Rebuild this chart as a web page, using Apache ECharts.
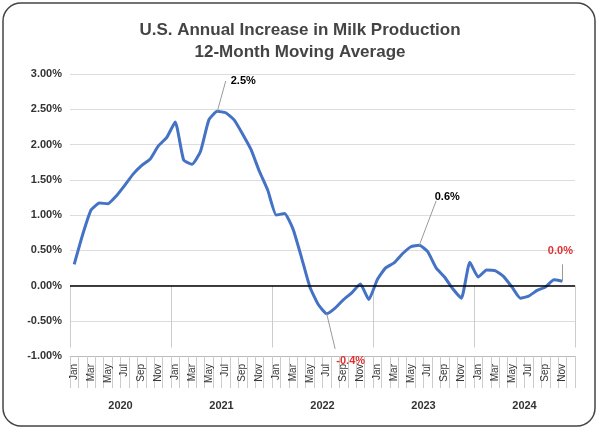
<!DOCTYPE html>
<html><head><meta charset="utf-8">
<script src="https://cdn.jsdelivr.net/npm/echarts@6/dist/echarts.min.js"></script>
<style>html,body{margin:0;padding:0;background:#fff}#c{width:600px;height:431px}</style>
</head><body><div id="c"></div>
<script>
const years = ['2020','2021','2022','2023','2024'];
const months = ['Jan','Feb','Mar','Apr','May','Jun','Jul','Aug','Sep','Oct','Nov','Dec'];
const values = [
 0.30,0.72,1.07,1.17,1.16,1.27,1.42,1.58,1.70,1.79,1.98,2.10,
 2.32,1.78,1.72,1.90,2.35,2.47,2.45,2.35,2.15,1.93,1.62,1.35,
 1.00,1.02,0.80,0.40,-0.02,-0.27,-0.40,-0.32,-0.20,-0.10,0.02,-0.20,
 0.08,0.25,0.32,0.45,0.55,0.57,0.48,0.25,0.12,-0.05,-0.18,0.33,
 0.12,0.22,0.21,0.13,-0.02,-0.18,-0.15,-0.07,-0.02,0.08,0.06,null
];
const notes = [
 {idx:17, text:'2.5%', color:'#000', end:[18.3,2.9], off:[26,-30]},
 {idx:30, text:'-0.4%', color:'#e03030', end:[30.5,-0.9], off:[24,47]},
 {idx:41, text:'0.6%', color:'#000', end:[42.5,1.2], off:[28,-48]},
 {idx:58, text:'0.0%', color:'#e03030', end:[58,0.3], off:[-2,-30]}
];
const cats = [];
years.forEach(y=>months.forEach(m=>cats.push(m)));
const chart = echarts.init(document.getElementById('c'));
chart.setOption({
  animation:false,
  graphic:[{type:'rect',shape:{x:3,y:3,width:592,height:423,r:18},style:{fill:'none',stroke:'#444',lineWidth:1.5}}],
  title:{text:'U.S. Annual Increase in Milk Production\n12-Month Moving Average',left:'center',top:14,
    textStyle:{fontFamily:'Liberation Sans',fontSize:17,fontWeight:'bold',color:'#444',lineHeight:22}},
  grid:{left:70,right:25,top:74,bottom:75},
  xAxis:[{type:'category',data:cats,boundaryGap:true,
    axisLine:{onZero:false,lineStyle:{color:'#bbb'}},
    axisTick:{show:true,interval:0,length:32,lineStyle:{color:'#ccc'}},
    axisLabel:{interval:1,rotate:90,fontSize:10,color:'#333',fontFamily:'Liberation Sans'}},
   {type:'category',data:years,position:'bottom',offset:0,boundaryGap:true,
    axisLine:{show:false},
    axisTick:{show:true,interval:0,length:62,lineStyle:{color:'#ccc'}},
    axisLabel:{fontSize:11,fontWeight:'bold',color:'#333',margin:44,fontFamily:'Liberation Sans'}}],
  yAxis:{type:'value',min:-1,max:3,interval:0.5,
    axisLabel:{formatter:v=>v.toFixed(2)+'%',fontSize:11,fontWeight:'bold',color:'#333',fontFamily:'Liberation Sans'},
    splitLine:{lineStyle:{color:'#ddd'}},axisLine:{show:false},axisTick:{show:false}},
  series:[{type:'line',data:values,smooth:0.15,symbol:'none',
    lineStyle:{color:'#4472c4',width:3},
    markLine:{symbol:'none',silent:true,label:{show:false},
      data:[[{yAxis:0,x:70,lineStyle:{color:'#000',width:1.5,type:'solid'}},{yAxis:0,x:575}]]
        .concat(notes.map(n=>[{coord:[n.idx,values[n.idx]],lineStyle:{color:'#999',width:1,type:'solid'}},{coord:n.end}]))},
    markPoint:{symbol:'circle',symbolSize:0,
      data:notes.map(n=>({coord:[n.idx,values[n.idx]],
        label:{show:true,formatter:n.text,color:n.color,fontWeight:'bold',fontSize:11,fontFamily:'Liberation Sans',offset:n.off}}))}
  }]
});
</script></body></html>
